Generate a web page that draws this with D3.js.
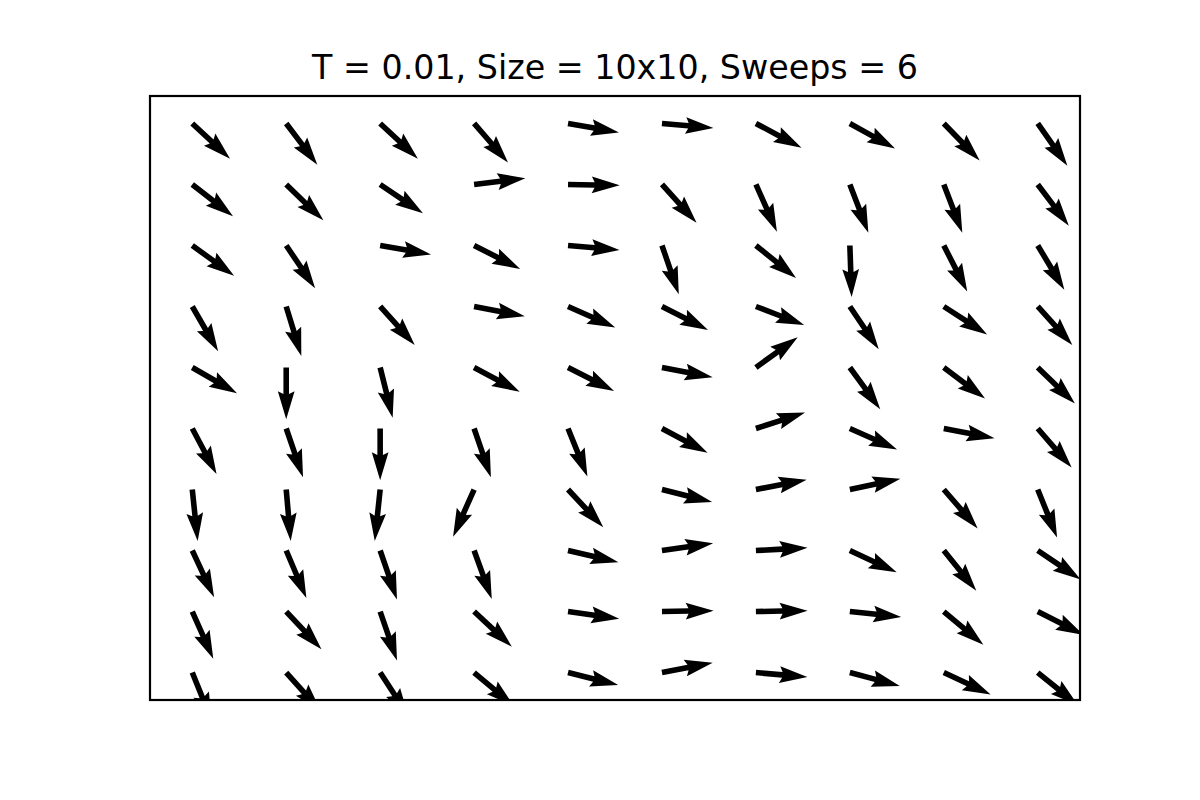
<!DOCTYPE html>
<html>
<head>
<meta charset="utf-8">
<script src="https://cdn.jsdelivr.net/npm/d3@7"></script>
<style>
  html, body { margin: 0; padding: 0; background: #fff; }
  svg { display: block; }
</style>
</head>
<body>
<div id="chart"></div>
<script>
// Grid coordinates
const xCols = [0, 1, 2, 3, 4, 5, 6, 7, 8, 9];
const yRows = [9, 8, 7, 6, 5, 4, 3, 2, 1, 0]; // top to bottom

// Spin angles in degrees (counter-clockwise from +x), one array per row (top to bottom)
const row_y9 = [-43, -53, -43, -49, -10, -5, -28, -29, -46, -55];
const row_y8 = [-38, -44, -34, 7, -1, -48, -66, -69, -69, -53];
const row_y7 = [-36, -56, -10, -27, -5, -71, -39, -88, -63, -59];
const row_y6 = [-60, -73, -48, -11, -24, -27, -21, -56, -33, -48];
const row_y5 = [-30, -90, -76, -28, -27, -11, 36, -54, -37, -44];
const row_y4 = [-62, -71, -90, -71, -68, -28, 18, -24, -11, -49];
const row_y3 = [-84, -85, -96, -114, -47, -14, 11, 12, -49, -68];
const row_y2 = [-65, -67, -71, -70, -13, 8, 3, -25, -51, -34];
const row_y1 = [-66, -47, -71, -43, -8, 1, 1, -6, -40, -27];
const row_y0 = [-68, -48, -57, -40, -14, 11, -5, -15, -25, -39];
const angleRows = [row_y9, row_y8, row_y7, row_y6, row_y5, row_y4, row_y3, row_y2, row_y1, row_y0];

const titleText = "T = 0.01, Size = 10x10, Sweeps = 6";

(function () {
  // Build the vector field table
  const field = [];
  yRows.forEach((yv, i) => {
    xCols.forEach((xv, j) => {
      const a = angleRows[i][j] * Math.PI / 180;
      field.push({ x: xv, y: yv, u: Math.cos(a), v: Math.sin(a) });
    });
  });

  const W = 1200, H = 800;
  const axLeft = 150, axRight = 1080, axTop = 96, axBottom = 700;

  const svg = d3.select("#chart").append("svg")
    .attr("width", W).attr("height", H);

  const x = d3.scaleLinear().domain([-0.45, 9.45]).range([axLeft, axRight]);
  const y = d3.scaleLinear().domain([-0.45, 9.45]).range([axBottom, axTop]);

  svg.append("defs").append("clipPath").attr("id", "axclip")
    .append("rect")
    .attr("x", axLeft).attr("y", axTop)
    .attr("width", axRight - axLeft).attr("height", axBottom - axTop);

  // matplotlib-like quiver arrow geometry
  const axW = axRight - axLeft;
  const sn = 10;
  const shaftW = 0.06 * axW / sn;          // shaft width px
  const arrowLen = axW / (1.8 * sn);       // arrow length px for unit vectors
  const Lw = arrowLen / shaftW;
  const hw = 3, hl = 5, hal = 4.5;
  const pts = [
    [0, 0.5], [Lw - hal, 0.5], [Lw - hl, hw / 2], [Lw, 0],
    [Lw - hl, -hw / 2], [Lw - hal, -0.5], [0, -0.5]
  ].map(p => [p[0] * shaftW, p[1] * shaftW]);
  const arrowPath = "M" + pts.map(p => p[0].toFixed(3) + "," + p[1].toFixed(3)).join("L") + "Z";

  const g = svg.append("g").attr("clip-path", "url(#axclip)");
  g.selectAll("path.arrow")
    .data(field)
    .enter().append("path")
    .attr("class", "arrow")
    .attr("d", arrowPath)
    .attr("fill", "#000")
    .attr("transform", d => {
      const ang = Math.atan2(-d.v, d.u) * 180 / Math.PI; // pixel angle (y down)
      return `translate(${x(d.x)},${y(d.y)}) rotate(${ang})`;
    });

  // Axes frame
  svg.append("rect")
    .attr("x", axLeft).attr("y", axTop)
    .attr("width", axRight - axLeft).attr("height", axBottom - axTop)
    .attr("fill", "none").attr("stroke", "#000").attr("stroke-width", 2.2);

  // Title
  svg.append("text")
    .attr("x", (axLeft + axRight) / 2).attr("y", 79)
    .attr("text-anchor", "middle")
    .attr("font-family", "DejaVu Sans")
    .attr("font-size", 33.3)
    .attr("fill", "#000")
    .text(titleText);
})();
</script>
</body>
</html>
